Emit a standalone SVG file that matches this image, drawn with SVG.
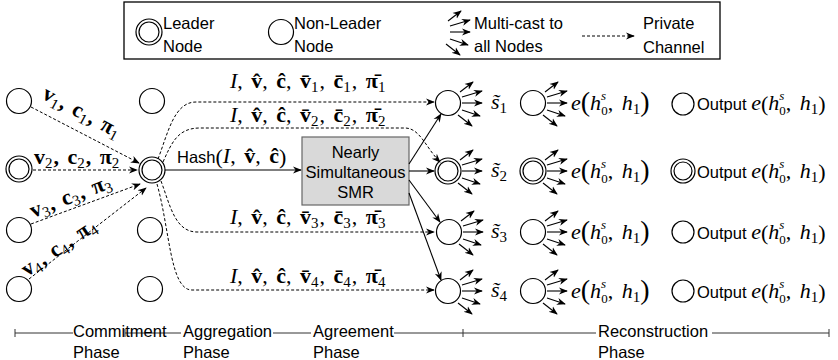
<svg xmlns="http://www.w3.org/2000/svg" xmlns:xlink="http://www.w3.org/1999/xlink" width="838" height="360" viewBox="0 0 838 360">
  <style>
    .nd { fill: #fff; stroke: #000; stroke-width: 1.2; }
    .t { font-family: "Liberation Sans", Arial, sans-serif; font-size: 16.5px; fill: #000; }
    .m { font-family: "Liberation Serif", "DejaVu Serif", serif; font-size: 22px; fill: #000; word-spacing: 3px; }
    .b { font-weight: bold; }
    .i { font-style: italic; }
    .s { font-size: 15px; font-weight: normal; font-style: normal; }
    .ss { font-size: 13px; font-weight: normal; }
    .dash { fill: none; stroke: #000; stroke-width: 1; stroke-dasharray: 3 2; marker-end: url(#ah); }
    .sol { fill: none; stroke: #000; stroke-width: 1.1; marker-end: url(#ah); }
    .ph { fill: none; stroke: #333; stroke-width: 1; }
  </style>
  <defs>
    <marker id="ah" viewBox="0 0 10 10" refX="9" refY="5" markerWidth="9" markerHeight="9" orient="auto" markerUnits="userSpaceOnUse">
      <path d="M0,1 L10,5 L0,9 L3,5 Z" fill="#000"/>
    </marker>
    <!-- five-way broadcast fan, origin at the sender's centre -->
    <g id="mc" class="sol">
      <path d="M12,-11 L25,-21"/>
      <path d="M14,-6 L34,-12"/>
      <path d="M14,0 L34,0"/>
      <path d="M14,7 L32,13"/>
      <path d="M10,12 L24,23"/>
    </g>
  </defs>

  <!-- legend -->
  <g id="legend">
    <rect x="124" y="2" width="596" height="57" fill="#fff" stroke="#000" stroke-width="1.3"/>
    <circle class="nd" cx="149" cy="32" r="13"/>
    <circle class="nd" cx="149" cy="32" r="10"/>
    <text class="t" x="163" y="29">Leader</text>
    <text class="t" x="163" y="52">Node</text>
    <circle class="nd" cx="281" cy="32" r="12.5"/>
    <text class="t" x="294" y="29">Non-Leader</text>
    <text class="t" x="294" y="52">Node</text>
    <use xlink:href="#mc" x="436" y="32"/>
    <text class="t" x="474" y="29">Multi-cast to</text>
    <text class="t" x="474" y="52">all Nodes</text>
    <path class="dash" d="M582,36 H634"/>
    <text class="t" x="643" y="29">Private</text>
    <text class="t" x="643" y="53">Channel</text>
  </g>

  <!-- commitment-phase nodes -->
  <g id="a1"><circle class="nd" cx="19" cy="101" r="12.5"/></g>
  <g id="a2"><circle class="nd" cx="19" cy="169" r="13"/><circle class="nd" cx="19" cy="169" r="10"/></g>
  <g id="a3"><circle class="nd" cx="19" cy="230" r="12.5"/></g>
  <g id="a4"><circle class="nd" cx="19" cy="289" r="12.5"/></g>

  <!-- aggregation-phase nodes -->
  <g id="b1"><circle class="nd" cx="152" cy="101" r="12.5"/></g>
  <g id="b2"><circle class="nd" cx="152" cy="170" r="13"/><circle class="nd" cx="152" cy="170" r="10"/></g>
  <g id="b3"><circle class="nd" cx="150" cy="230" r="12.5"/></g>
  <g id="b4"><circle class="nd" cx="150" cy="289" r="12.5"/></g>

  <!-- agreement -->
  <g id="smr">
    <rect x="302" y="137" width="107" height="68" fill="#d9d9d9" stroke="#666" stroke-width="1.2"/>
    <text class="t" x="355.5" y="158" text-anchor="middle" font-size="15.5" fill="#444">Nearly</text>
    <text class="t" x="355.5" y="178" text-anchor="middle" font-size="15.5" fill="#444">Simultaneous</text>
    <text class="t" x="355.5" y="198" text-anchor="middle" font-size="15.5" fill="#444">SMR</text>
  </g>

  <!-- reconstruction: first broadcast -->
  <g id="c1"><circle class="nd" cx="448" cy="103" r="12.5"/><use xlink:href="#mc" x="448" y="103"/></g>
  <g id="c2"><circle class="nd" cx="448" cy="171" r="13"/><circle class="nd" cx="448" cy="171" r="10"/><use xlink:href="#mc" x="448" y="171"/></g>
  <g id="c3"><circle class="nd" cx="449" cy="232" r="12.5"/><use xlink:href="#mc" x="449" y="232"/></g>
  <g id="c4"><circle class="nd" cx="448" cy="291" r="12.5"/><use xlink:href="#mc" x="448" y="291"/></g>

  <!-- reconstruction: second broadcast -->
  <g id="d1"><circle class="nd" cx="533" cy="103" r="12.5"/><use xlink:href="#mc" x="533" y="103"/></g>
  <g id="d2"><circle class="nd" cx="533" cy="171" r="13"/><circle class="nd" cx="533" cy="171" r="10"/><use xlink:href="#mc" x="533" y="171"/></g>
  <g id="d3"><circle class="nd" cx="533" cy="232" r="12.5"/><use xlink:href="#mc" x="533" y="232"/></g>
  <g id="d4"><circle class="nd" cx="533" cy="291" r="12.5"/><use xlink:href="#mc" x="533" y="291"/></g>

  <!-- output -->
  <g id="e1"><circle class="nd" cx="683" cy="104" r="11"/></g>
  <g id="e2"><circle class="nd" cx="683" cy="171" r="12"/><circle class="nd" cx="683" cy="171" r="9"/></g>
  <g id="e3"><circle class="nd" cx="683" cy="232" r="11"/></g>
  <g id="e4"><circle class="nd" cx="683" cy="291" r="11"/></g>

  <g id="connectors">
    <path class="dash" d="M31,107 L139,163"/>
    <path class="dash" d="M33,170 L137,170"/>
    <path class="dash" d="M31,224 L140,184"/>
    <path class="dash" d="M29,279 L146,188"/>

    <path class="dash" d="M158,159 C168,133 174,102 196,102 L434,102"/>
    <path class="dash" d="M163,162 C172,142 178,128 200,128 L405,128 C420,128 426,148 440,162"/>
    <path class="dash" d="M161,181 C170,205 175,232 197,232 L434,232"/>
    <path class="dash" d="M157,184 C170,230 170,290 192,290 L434,290"/>

    <path class="sol" d="M165,170 L301,170"/>
    <path class="sol" d="M409,164 L441,114"/>
    <path class="sol" d="M409,171 L434,171"/>
    <path class="sol" d="M409,180 L440,222"/>
    <path class="sol" d="M409,193 L441,280"/>
  </g>

  <!-- shares sent to the leader -->
  <g id="commit-labels">
    <text class="m b" font-size="21" transform="translate(41,98) rotate(28)">v<tspan class="s" dy="4">1</tspan><tspan dx="1" dy="-4">, c</tspan><tspan class="s" dy="4">1</tspan><tspan dx="1" dy="-4">, π</tspan><tspan class="s" dy="4">1</tspan></text>
    <text class="m b" font-size="21" x="34" y="164">v<tspan class="s" dy="4">2</tspan><tspan dx="1" dy="-4">, c</tspan><tspan class="s" dy="4">2</tspan><tspan dx="1" dy="-4">, π</tspan><tspan class="s" dy="4">2</tspan></text>
    <text class="m b" font-size="21" transform="translate(33,218) rotate(-21)">v<tspan class="s" dy="4">3</tspan><tspan dx="1" dy="-4">, c</tspan><tspan class="s" dy="4">3</tspan><tspan dx="1" dy="-4">, π</tspan><tspan class="s" dy="4">3</tspan></text>
    <text class="m b" font-size="21" transform="translate(27,277) rotate(-34)">v<tspan class="s" dy="4">4</tspan><tspan dx="1" dy="-4">, c</tspan><tspan class="s" dy="4">4</tspan><tspan dx="1" dy="-4">, π</tspan><tspan class="s" dy="4">4</tspan></text>
  </g>

  <!-- aggregated values -->
  <g id="agg-labels">
    <text class="m" x="230" y="88"><tspan class="i">I</tspan>, <tspan class="b">v̂</tspan>, <tspan class="b">ĉ</tspan>, <tspan class="b">v̄</tspan><tspan class="s" dy="4">1</tspan><tspan dx="1" dy="-4">, </tspan><tspan class="b">c̄</tspan><tspan class="s" dy="4">1</tspan><tspan dx="1" dy="-4">, </tspan><tspan class="b">π̄</tspan><tspan class="s" dy="4">1</tspan></text>
    <text class="m" x="230" y="122"><tspan class="i">I</tspan>, <tspan class="b">v̂</tspan>, <tspan class="b">ĉ</tspan>, <tspan class="b">v̄</tspan><tspan class="s" dy="4">2</tspan><tspan dx="1" dy="-4">, </tspan><tspan class="b">c̄</tspan><tspan class="s" dy="4">2</tspan><tspan dx="1" dy="-4">, </tspan><tspan class="b">π̄</tspan><tspan class="s" dy="4">2</tspan></text>
    <text class="m" x="230" y="224"><tspan class="i">I</tspan>, <tspan class="b">v̂</tspan>, <tspan class="b">ĉ</tspan>, <tspan class="b">v̄</tspan><tspan class="s" dy="4">3</tspan><tspan dx="1" dy="-4">, </tspan><tspan class="b">c̄</tspan><tspan class="s" dy="4">3</tspan><tspan dx="1" dy="-4">, </tspan><tspan class="b">π̄</tspan><tspan class="s" dy="4">3</tspan></text>
    <text class="m" x="230" y="283"><tspan class="i">I</tspan>, <tspan class="b">v̂</tspan>, <tspan class="b">ĉ</tspan>, <tspan class="b">v̄</tspan><tspan class="s" dy="4">4</tspan><tspan dx="1" dy="-4">, </tspan><tspan class="b">c̄</tspan><tspan class="s" dy="4">4</tspan><tspan dx="1" dy="-4">, </tspan><tspan class="b">π̄</tspan><tspan class="s" dy="4">4</tspan></text>
    <text x="177" y="163"><tspan class="t">Hash</tspan><tspan class="m" font-size="27" dy="1">(</tspan><tspan class="m i" dy="-1">I</tspan><tspan class="m">, </tspan><tspan class="m b">v̂</tspan><tspan class="m">, </tspan><tspan class="m b">ĉ</tspan><tspan class="m" font-size="27" dy="1">)</tspan></text>
  </g>

  <!-- reconstruction values -->
  <g id="rec-labels">
    <text class="m" x="491" y="109"><tspan class="i">s̃</tspan><tspan class="s" dy="4">1</tspan></text>
    <text class="m" x="491" y="177"><tspan class="i">s̃</tspan><tspan class="s" dy="4">2</tspan></text>
    <text class="m" x="491" y="238"><tspan class="i">s̃</tspan><tspan class="s" dy="4">3</tspan></text>
    <text class="m" x="491" y="297"><tspan class="i">s̃</tspan><tspan class="s" dy="4">4</tspan></text>

    <text class="m" x="571" y="110"><tspan class="i">e</tspan><tspan font-size="28" dy="1">(</tspan><tspan class="i" dy="-1">h</tspan><tspan class="ss i" dy="-10">s</tspan><tspan class="ss" dx="-5" dy="15">0</tspan><tspan dy="-5">, </tspan><tspan class="i">h</tspan><tspan class="s" dy="4">1</tspan><tspan font-size="28" dy="-3">)</tspan></text>
    <text class="m" x="571" y="178"><tspan class="i">e</tspan><tspan font-size="28" dy="1">(</tspan><tspan class="i" dy="-1">h</tspan><tspan class="ss i" dy="-10">s</tspan><tspan class="ss" dx="-5" dy="15">0</tspan><tspan dy="-5">, </tspan><tspan class="i">h</tspan><tspan class="s" dy="4">1</tspan><tspan font-size="28" dy="-3">)</tspan></text>
    <text class="m" x="571" y="239"><tspan class="i">e</tspan><tspan font-size="28" dy="1">(</tspan><tspan class="i" dy="-1">h</tspan><tspan class="ss i" dy="-10">s</tspan><tspan class="ss" dx="-5" dy="15">0</tspan><tspan dy="-5">, </tspan><tspan class="i">h</tspan><tspan class="s" dy="4">1</tspan><tspan font-size="28" dy="-3">)</tspan></text>
    <text class="m" x="571" y="298"><tspan class="i">e</tspan><tspan font-size="28" dy="1">(</tspan><tspan class="i" dy="-1">h</tspan><tspan class="ss i" dy="-10">s</tspan><tspan class="ss" dx="-5" dy="15">0</tspan><tspan dy="-5">, </tspan><tspan class="i">h</tspan><tspan class="s" dy="4">1</tspan><tspan font-size="28" dy="-3">)</tspan></text>

    <text x="697" y="110"><tspan class="t" font-size="17.5">Output </tspan><tspan class="m i">e</tspan><tspan class="m" font-size="28" dy="1">(</tspan><tspan class="m i" dy="-1">h</tspan><tspan class="m ss i" dy="-10">s</tspan><tspan class="m ss" dx="-5" dy="15">0</tspan><tspan class="m" dy="-5">, </tspan><tspan class="m i">h</tspan><tspan class="m s" dy="4">1</tspan><tspan class="m" font-size="28" dy="-3">)</tspan></text>
    <text x="697" y="178"><tspan class="t" font-size="17.5">Output </tspan><tspan class="m i">e</tspan><tspan class="m" font-size="28" dy="1">(</tspan><tspan class="m i" dy="-1">h</tspan><tspan class="m ss i" dy="-10">s</tspan><tspan class="m ss" dx="-5" dy="15">0</tspan><tspan class="m" dy="-5">, </tspan><tspan class="m i">h</tspan><tspan class="m s" dy="4">1</tspan><tspan class="m" font-size="28" dy="-3">)</tspan></text>
    <text x="697" y="239"><tspan class="t" font-size="17.5">Output </tspan><tspan class="m i">e</tspan><tspan class="m" font-size="28" dy="1">(</tspan><tspan class="m i" dy="-1">h</tspan><tspan class="m ss i" dy="-10">s</tspan><tspan class="m ss" dx="-5" dy="15">0</tspan><tspan class="m" dy="-5">, </tspan><tspan class="m i">h</tspan><tspan class="m s" dy="4">1</tspan><tspan class="m" font-size="28" dy="-3">)</tspan></text>
    <text x="697" y="298"><tspan class="t" font-size="17.5">Output </tspan><tspan class="m i">e</tspan><tspan class="m" font-size="28" dy="1">(</tspan><tspan class="m i" dy="-1">h</tspan><tspan class="m ss i" dy="-10">s</tspan><tspan class="m ss" dx="-5" dy="15">0</tspan><tspan class="m" dy="-5">, </tspan><tspan class="m i">h</tspan><tspan class="m s" dy="4">1</tspan><tspan class="m" font-size="28" dy="-3">)</tspan></text>
  </g>

  <!-- phase timeline -->
  <g id="phases">
    <path class="ph" d="M15,333 H73 M15,329 V337 M125,333 H181 M125,329 V337 M273,333 H311 M394,333 H596 M463,329 V337 M712,333 H829 M829,329 V337"/>
    <text class="t" x="73" y="337">Commitment</text>
    <text class="t" x="73" y="358">Phase</text>
    <text class="t" x="183" y="337">Aggregation</text>
    <text class="t" x="183" y="358">Phase</text>
    <text class="t" x="313" y="337">Agreement</text>
    <text class="t" x="313" y="358">Phase</text>
    <text class="t" x="598" y="337">Reconstruction</text>
    <text class="t" x="598" y="358">Phase</text>
  </g>
</svg>
